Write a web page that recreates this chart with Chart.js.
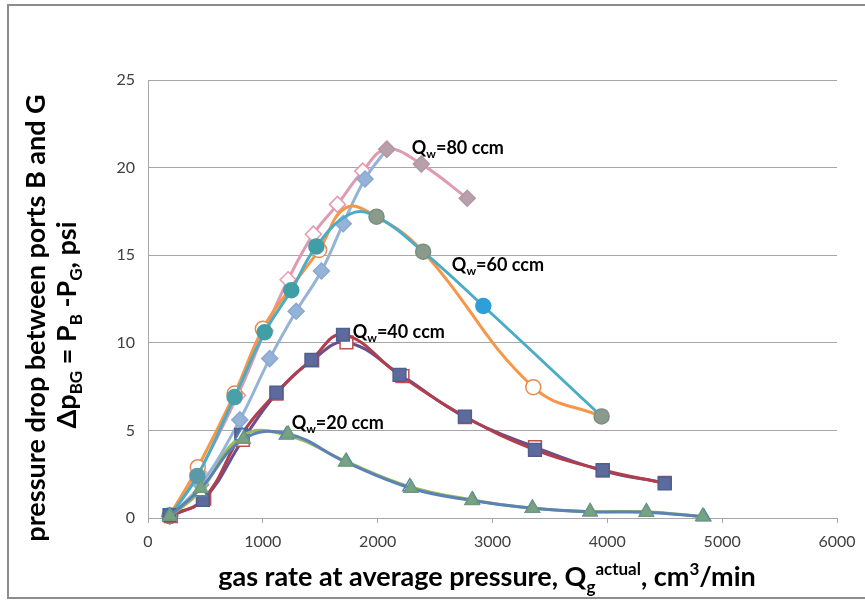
<!DOCTYPE html>
<html>
<head>
<meta charset="utf-8">
<script src="https://cdn.jsdelivr.net/npm/chart.js@4.4.1/dist/chart.umd.min.js"></script>
<style>
  html, body { margin: 0; padding: 0; background: #fff; }
  #wrap { width: 865px; height: 601px; position: relative; }
</style>
</head>
<body>
<div id="wrap"><canvas id="chart" width="865" height="601"></canvas></div>
<script>
// Qw = 80 ccm, two runs
const q80aX = [190, 440, 780, 1020, 1220, 1440, 1650, 1870, 2080, 2380, 2780];
const q80aY = [0.15, 2.6, 7.0, 10.7, 13.6, 16.2, 17.9, 19.8, 21.05, 20.2, 18.25];
const q80bX = [190, 460, 800, 1060, 1290, 1510, 1700, 1890, 2080];
const q80bY = [0.1, 1.9, 5.6, 9.1, 11.8, 14.1, 16.8, 19.35, 21.05];

// Qw = 60 ccm
const q60aX = [190, 430, 754, 1016, 1248, 1466, 1760, 1990, 2396, 2920, 3950];
const q60aY = [0.1, 2.4, 6.9, 10.6, 13.0, 15.5, 17.35, 17.2, 15.2, 12.1, 5.8];
const q60bX = [190, 434, 754, 1000, 1250, 1490, 1720, 1990, 2396, 3355, 3950];
const q60bY = [0.15, 2.9, 7.1, 10.8, 13.2, 15.3, 17.7, 17.2, 15.2, 7.47, 5.8];

// Qw = 40 ccm
const q40aX = [187, 478, 812, 1118, 1423, 1698, 2190, 2760, 3370, 3960, 4500];
const q40aY = [0.17, 1.03, 4.74, 7.16, 9.03, 10.46, 8.17, 5.79, 3.89, 2.74, 1.98];
const q40bX = [200, 490, 826, 1120, 1430, 1728, 2216, 2760, 3370, 3960, 4500];
const q40bY = [0.1, 1.1, 4.46, 7.1, 9.0, 10.02, 8.1, 5.75, 4.05, 2.7, 2.0];

// Qw = 20 ccm
const q20aX = [190, 450, 820, 1205, 1728, 2280, 2826, 3346, 3850, 4340, 4840];
const q20aY = [0.1, 1.5, 4.7, 4.74, 3.22, 1.79, 1.03, 0.55, 0.36, 0.36, 0.07];
const q20bX = [190, 460, 830, 1220, 1720, 2290, 2820, 3350, 3850, 4340, 4830];
const q20bY = [0.1, 1.7, 4.5, 4.8, 3.2, 1.7, 1.0, 0.55, 0.35, 0.33, 0.08];

const xTicks = [0, 1000, 2000, 3000, 4000, 5000, 6000];
const yTicks = [0, 5, 10, 15, 20, 25];

const curveLabels = [
  { n: "80", x: 2297, y: 21.1 },
  { n: "60", x: 2646, y: 14.45 },
  { n: "40", x: 1783, y: 10.6 },
  { n: "20", x: 1251, y: 5.4 }
];

const pts = (xs, ys) => xs.map((x, i) => ({ x: x, y: ys[i] }));
const FONT = "Lato, 'Open Sans', sans-serif";
const NONE = "rgba(0,0,0,0)";

function series(xs, ys, line, style, fill, border, radius) {
  return {
    data: pts(xs, ys),
    showLine: true,
    borderColor: line,
    borderWidth: 3,
    tension: 0.42,
    pointStyle: style,
    pointRadius: radius,
    pointBackgroundColor: fill,
    pointBorderColor: border,
    pointBorderWidth: 1.5,
    clip: false
  };
}

function rich(ctx, parts, x, y, align) {
  let w = 0;
  parts.forEach(p => {
    ctx.font = (p.bold ? "bold " : "") + p.size + "px " + FONT;
    w += ctx.measureText(p.t).width;
  });
  let cx = align === "center" ? x - w / 2 : x;
  parts.forEach(p => {
    ctx.font = (p.bold ? "bold " : "") + p.size + "px " + FONT;
    ctx.fillText(p.t, cx, y + (p.dy || 0));
    cx += ctx.measureText(p.t).width;
  });
}

const textPlugin = {
  id: "texts",
  afterDraw(chart) {
    const ctx = chart.ctx;
    const xs = chart.scales.x, ys = chart.scales.y;
    ctx.save();
    ctx.fillStyle = "#000";
    ctx.textBaseline = "alphabetic";

    // curve labels
    curveLabels.forEach(l => {
      const px = xs.getPixelForValue(l.x), py = ys.getPixelForValue(l.y) + 6;
      rich(ctx, [
        { t: "Q", size: 18, bold: true },
        { t: "w", size: 12, bold: true, dy: 4 },
        { t: "=" + l.n + " ccm", size: 18, bold: true }
      ], px, py, "left");
    });

    // x title
    rich(ctx, [
      { t: "gas rate at average pressure, Q", size: 27, bold: true },
      { t: "g", size: 17, bold: true, dy: 7 },
      { t: "actual", size: 17, bold: true, dy: -11 },
      { t: ", cm", size: 27, bold: true },
      { t: "3", size: 17, bold: true, dy: -11 },
      { t: "/min", size: 27, bold: true }
    ], 487, 586, "center");

    // y title, two rotated lines
    ctx.save();
    ctx.translate(45, 318);
    ctx.rotate(-Math.PI / 2);
    rich(ctx, [{ t: "pressure drop between ports B and G", size: 27, bold: true }], 0, 0, "center");
    ctx.restore();
    ctx.save();
    ctx.translate(76, 325);
    ctx.rotate(-Math.PI / 2);
    rich(ctx, [
      { t: "\u0394p", size: 27, bold: true },
      { t: "BG", size: 17, bold: true, dy: 6 },
      { t: " = P", size: 27, bold: true },
      { t: "B", size: 17, bold: true, dy: 6 },
      { t: " -P", size: 27, bold: true },
      { t: "G", size: 17, bold: true, dy: 6 },
      { t: ", psi", size: 27, bold: true }
    ], 0, 0, "center");
    ctx.restore();

    // outer frame
    ctx.strokeStyle = "#8c8c8c";
    ctx.lineWidth = 2;
    ctx.beginPath();
    ctx.moveTo(880, 5);
    ctx.lineTo(8, 5);
    ctx.lineTo(8, 598);
    ctx.lineTo(880, 598);
    ctx.stroke();
    ctx.restore();
  }
};

const open = "#ffffff";

new Chart(document.getElementById("chart"), {
  type: "scatter",
  data: {
    // first dataset is painted on top
    datasets: [
      series(q20bX, q20bY, "#5a82b4", "triangle", "#77a284", "#6e9a7c", 8),
      series(q20aX, q20aY, "#9bbb59", "triangle", open, "#4f81bd", 8),
      series(q40aX, q40aY, "#b03e4c", "rect", "#5c6a9c", "#4f5f90", 9),
      series(q40bX, q40bY, "#6a4f8a", "rect", open, "#c0504d", 9),
      series(q60aX, q60aY, "#4bacc6", "circle",
        ["#8aa09a", "#5a9aa8", "#4aa0a8", "#3f9ea6", "#3f9ea6", "#3f9ea6", NONE, "#8a9a8c", "#8a9a8c", "#2e9fd8", "#8a9a8c"],
        ["#6a9a9a", "#5a9aa8", "#4aa0a8", "#3f9ea6", "#3f9ea6", "#3f9ea6", NONE, "#7a9080", "#7a9080", "#2e9fd8", "#7a9080"], 7.5),
      series(q60bX, q60bY, "#f79646", "circle",
        ["#d89c80", open, open, open, NONE, open, NONE, NONE, NONE, open, NONE],
        ["#e88a50", "#e88a50", "#e88a50", "#e88a50", NONE, "#e88a50", NONE, NONE, NONE, "#e88a50", NONE], 7.5),
      series(q80bX, q80bY, "#95b3d7", "rectRot",
        ["#c8a0b0", "#95b3d7", "#95b3d7", "#95b3d7", "#95b3d7", "#95b3d7", "#95b3d7", "#95b3d7", "#b89faa"],
        ["#c8a0b0", "#8aa8d0", "#8aa8d0", "#8aa8d0", "#8aa8d0", "#8aa8d0", "#8aa8d0", "#8aa8d0", "#b09aa6"], 8),
      series(q80aX, q80aY, "#df9bb2", "rectRot",
        ["#c8a0b0", open, open, open, open, open, open, open, "#b89faa", "#b89faa", "#b89faa"],
        ["#c8a0b0", "#e39ab2", "#e39ab2", "#e39ab2", "#e39ab2", "#e39ab2", "#e39ab2", "#e39ab2", "#b09aa6", "#b09aa6", "#b09aa6"], 8)
    ]
  },
  options: {
    responsive: false,
    animation: false,
    devicePixelRatio: 1,
    layout: { padding: { top: 80, right: 28, left: 0, bottom: 0 } },
    plugins: { legend: { display: false }, tooltip: { enabled: false } },
    scales: {
      x: {
        type: "linear",
        min: 0, max: 6000,
        afterFit: s => { s.height = 83; },
        afterBuildTicks: s => { s.ticks = xTicks.map(v => ({ value: v })); },
        grid: { drawOnChartArea: false, drawTicks: true, tickLength: 5, color: "#a6a6a6" },
        border: { color: "#a6a6a6", width: 1 },
        ticks: { color: "#404040", font: { family: FONT, size: 16 }, padding: 9, callback: v => String(v) }
      },
      y: {
        type: "linear",
        min: 0, max: 25,
        afterFit: s => { s.width = 148; },
        afterBuildTicks: s => { s.ticks = yTicks.map(v => ({ value: v })); },
        grid: { color: "#a6a6a6", drawTicks: false, lineWidth: 1 },
        border: { color: "#a6a6a6", width: 1 },
        ticks: { color: "#404040", font: { family: FONT, size: 16 }, padding: 13, callback: v => String(v) }
      }
    }
  },
  plugins: [textPlugin]
});
</script>
</body>
</html>
